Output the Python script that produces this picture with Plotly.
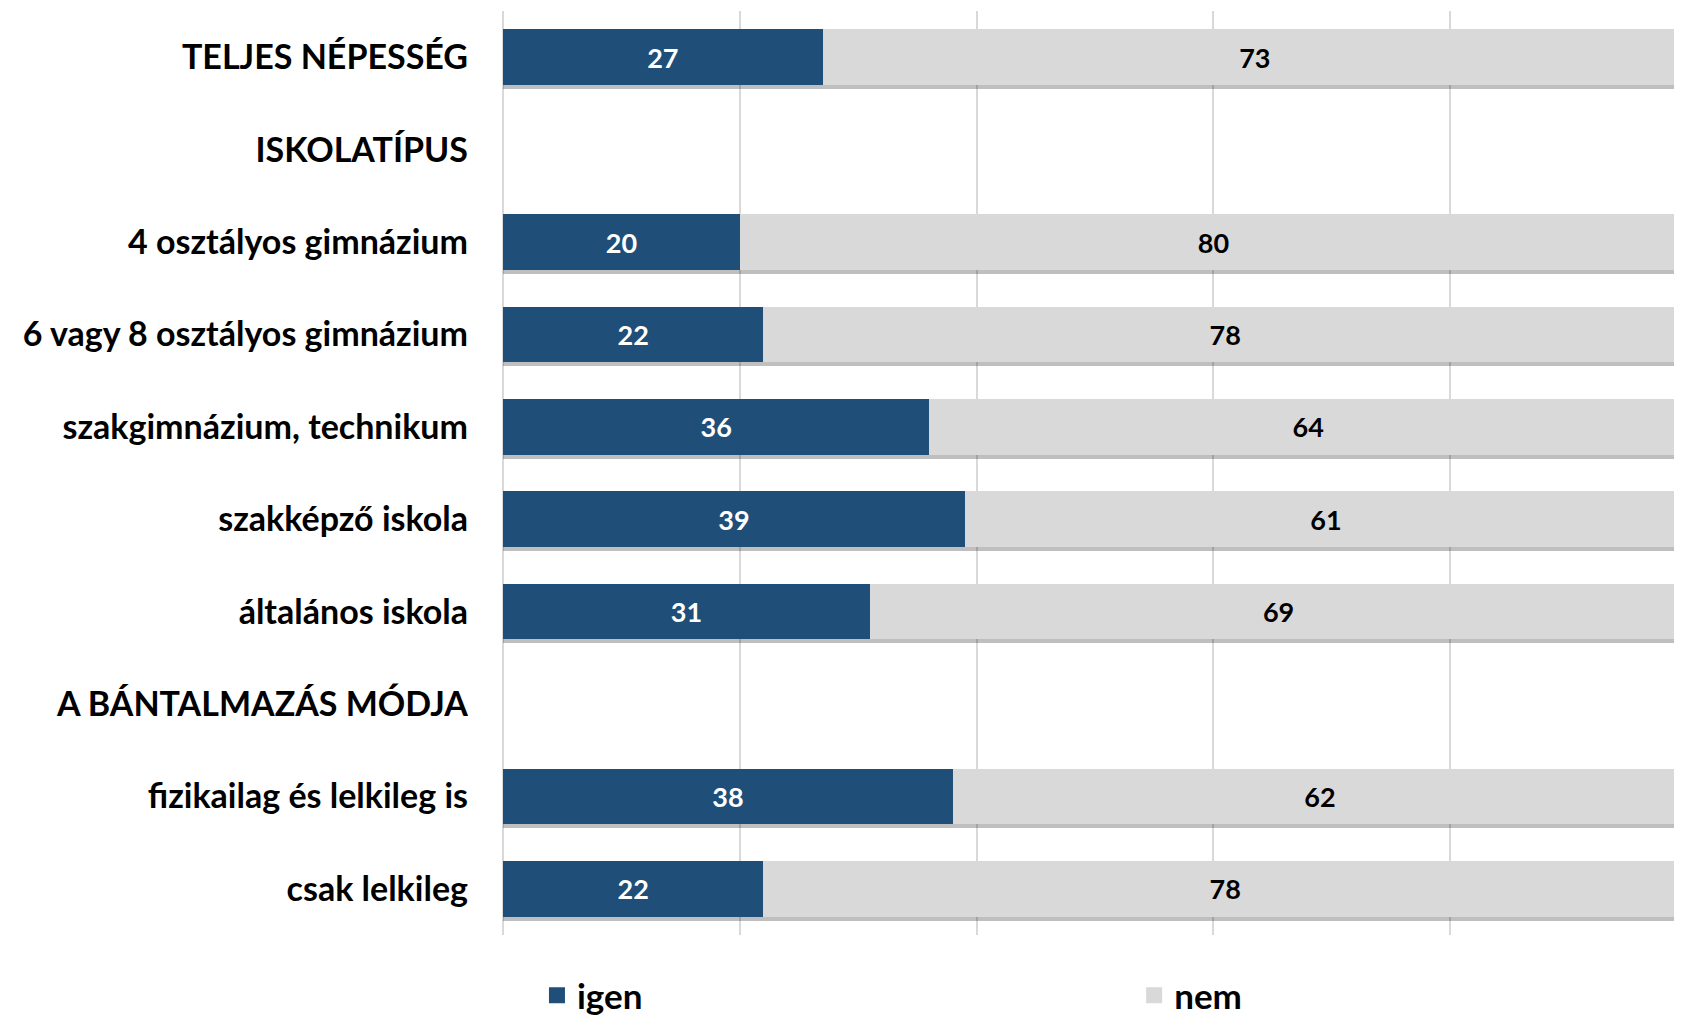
import plotly.graph_objects as go

categories = [
    "TELJES NÉPESSÉG",
    "ISKOLATÍPUS",
    "4 osztályos gimnázium",
    "6 vagy 8 osztályos gimnázium",
    "szakgimnázium, technikum",
    "szakképző iskola",
    "általános iskola",
    "A BÁNTALMAZÁS MÓDJA",
    "fizikailag és lelkileg is",
    "csak lelkileg",
]
igen = [27, None, 20, 22, 36, 39, 31, None, 38, 22]
nem = [73, None, 80, 78, 64, 61, 69, None, 62, 78]
x_ticks = [0, 20, 40, 60, 80, 100]

FONT = "Lato"
C_IGEN = "#1F4E79"
C_NEM = "#D9D9D9"

totals = [None if a is None else a + b for a, b in zip(igen, nem)]
n = len(categories)
shadow_shift = 4 / 92.4  # category units for a small drop shadow

fig = go.Figure()
# soft drop shadow behind the bars (base y axis, slightly shifted)
fig.add_trace(go.Bar(
    y=categories, x=totals, orientation="h", yaxis="y", showlegend=False,
    marker=dict(color="rgba(0,0,0,0.25)", line=dict(width=0)),
    width=0.6, hoverinfo="skip",
))
fig.add_trace(go.Bar(
    y=categories, x=igen, name="igen", orientation="h", yaxis="y2",
    marker=dict(color=C_IGEN, line=dict(width=0)), showlegend=False,
    text=igen, textposition="inside", insidetextanchor="middle",
    textfont=dict(family=FONT, size=27, color="white", weight="bold"),
    width=0.6,
))
fig.add_trace(go.Bar(
    y=categories, x=nem, name="nem", orientation="h", yaxis="y2",
    marker=dict(color=C_NEM, line=dict(width=0)), showlegend=False,
    text=nem, textposition="inside", insidetextanchor="middle",
    textfont=dict(family=FONT, size=27, color="black", weight="bold"),
    width=0.6,
))
# legend entries
for name, col, lg in (("igen", C_IGEN, "legend"), ("nem", C_NEM, "legend2")):
    fig.add_trace(go.Scatter(
        x=[None], y=[None], mode="markers", name=name, yaxis="y2",
        marker=dict(symbol="square", size=19, color=col), legend=lg,
    ))

legend_common = dict(
    orientation="h", xanchor="left", yref="container", y=0, yanchor="bottom",
    itemsizing="trace", bgcolor="rgba(0,0,0,0)",
    font=dict(family=FONT, size=35, color="black", weight="bold"),
)

fig.update_layout(
    barmode="stack",
    width=1666, height=1017,
    margin=dict(l=495, r=0, t=3, b=90),
    plot_bgcolor="white", paper_bgcolor="white",
    font=dict(family=FONT, color="black"),
    xaxis=dict(
        range=[0, 98.9], tickvals=x_ticks, showticklabels=False,
        showgrid=True, gridcolor="#D9D9D9", gridwidth=1.5,
        zeroline=True, zerolinecolor="#D9D9D9", zerolinewidth=1.5,
        showline=False,
    ),
    yaxis=dict(
        type="category", categoryorder="array", categoryarray=categories,
        range=[n - 0.5 - shadow_shift, -0.5 - shadow_shift],
        showticklabels=False, showgrid=False, showline=False, ticks="",
        zeroline=False,
    ),
    yaxis2=dict(
        type="category", overlaying="y", side="left", anchor="x",
        categoryorder="array", categoryarray=categories,
        range=[n - 0.5, -0.5],
        tickfont=dict(family=FONT, size=34, color="black", weight="bold"),
        ticklabelstandoff=34, showline=False, showgrid=False, ticks="",
        zeroline=False,
    ),
    legend=dict(x=0.029, **legend_common),
    legend2=dict(x=0.539, **legend_common),
    showlegend=True,
)

fig.write_html("out.html")
